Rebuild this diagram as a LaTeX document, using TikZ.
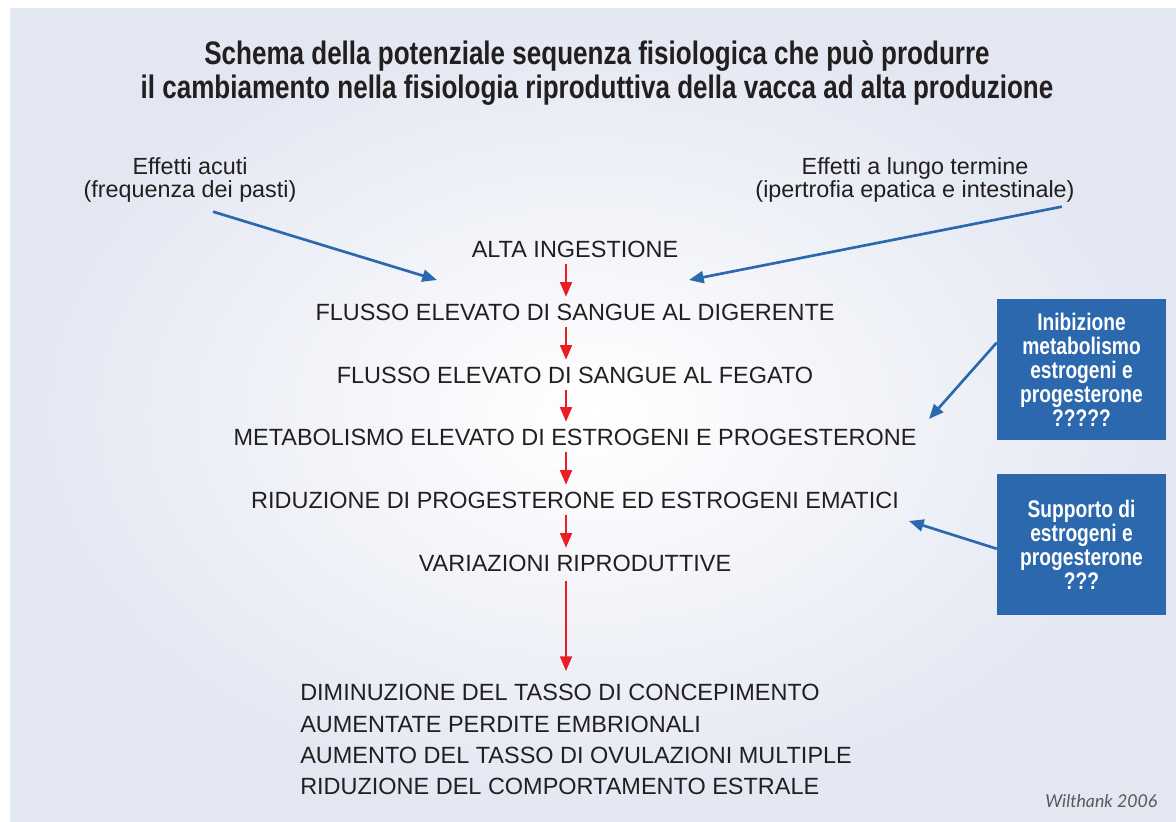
\documentclass[tikz,border=0pt]{standalone}
\usepackage{fontspec}
\setmainfont{Liberation Sans}
\newfontfamily\condfont[FakeStretch=0.8]{Liberation Sans}
\newfontfamily\notefont{Lato}
\usetikzlibrary{arrows.meta,calc}
\definecolor{panelblue}{HTML}{E3E7F2}
\definecolor{boxblue}{HTML}{2B68AD}
\definecolor{arrowred}{HTML}{EC1C24}
\definecolor{inkgray}{HTML}{231F20}
\tikzset{
  flow/.style={text=inkgray, font=\fontsize{17.6}{18}\selectfont, text height=12.6pt, text depth=0pt, inner sep=3pt},
  side/.style={text=inkgray, align=center, inner sep=3pt, font=\fontsize{17.5}{17.3}\selectfont},
  infobox/.style={fill=boxblue, text=white, align=center, minimum width=126.75pt, minimum height=105.75pt, inner sep=0pt, font=\condfont\bfseries\fontsize{18}{18}\selectfont},
  redarr/.style={draw=arrowred, line width=1.5pt, -{Triangle[length=11pt,width=9pt]}},
  bluearr/.style={draw=boxblue, line width=2pt, -{Triangle[length=11pt,width=9pt]}}
}
\begin{document}
\begin{tikzpicture}[x=0.75pt,y=-0.75pt]
\useasboundingbox (0,0) rectangle (1176,821);
\fill[white] (0,0) rectangle (1176,821);
\shade[inner color=white, outer color=panelblue] (10,8) rectangle (1176,821);
\node[text=inkgray, align=center, font=\condfont\bfseries\fontsize{24.4}{24.8}\selectfont] (t1) at (597,73) {Schema della potenziale sequenza fisiologica che può produrre\\il cambiamento nella fisiologia riproduttiva della vacca ad alta produzione};
\node[side] (e1) at (190,180) {Effetti acuti\\(frequenza dei pasti)};
\node[side] (e2) at (915,180) {Effetti a lungo termine\\(ipertrofia epatica e intestinale)};
\node[flow] (v1) at (575,249) {ALTA INGESTIONE};
\node[flow] (v2) at (575,312) {FLUSSO ELEVATO DI SANGUE AL DIGERENTE};
\node[flow] (v3) at (575,375) {FLUSSO ELEVATO DI SANGUE AL FEGATO};
\node[flow] (v4) at (575,437) {METABOLISMO ELEVATO DI ESTROGENI E PROGESTERONE};
\node[flow] (v5) at (575,500) {RIDUZIONE DI PROGESTERONE ED ESTROGENI EMATICI};
\node[flow] (v6) at (575,563) {VARIAZIONI RIPRODUTTIVE};
\node[text=inkgray, align=left, inner sep=3pt, anchor=north west, font=\fontsize{17.6}{23.5}\selectfont] (v7) at (296,680) {DIMINUZIONE DEL TASSO DI CONCEPIMENTO\\AUMENTATE PERDITE EMBRIONALI\\AUMENTO DEL TASSO DI OVULAZIONI MULTIPLE\\RIDUZIONE DEL COMPORTAMENTO ESTRALE};
\node[infobox] (b1) at (1081.5,369.5) {Inibizione\\metabolismo\\estrogeni e\\progesterone\\?????};
\node[infobox] (b2) at (1081.5,544.5) {Supporto di\\estrogeni e\\progesterone\\???};
\node[anchor=east, text=black!65, font=\notefont\itshape\fontsize{13.3}{13.3}\selectfont] (src) at (1162,801) {Wilthank 2006};
\coordinate (p1) at (437,280);
\coordinate (p2) at (689,280);
\coordinate (p3) at (929,419);
\coordinate (p4) at (909,521);
\draw[redarr, shorten <=1.5pt, shorten >=2pt] ([xshift=-6.75pt]v1.south) -- ([xshift=-6.75pt]v2.north);
\draw[redarr, shorten <=1.5pt, shorten >=2pt] ([xshift=-6.75pt]v2.south) -- ([xshift=-6.75pt]v3.north);
\draw[redarr, shorten <=1.5pt, shorten >=2pt] ([xshift=-6.75pt]v3.south) -- ([xshift=-6.75pt]v4.north);
\draw[redarr, shorten <=1.5pt, shorten >=2pt] ([xshift=-6.75pt]v4.south) -- ([xshift=-6.75pt]v5.north);
\draw[redarr, shorten <=1.5pt, shorten >=2pt] ([xshift=-6.75pt]v5.south) -- ([xshift=-6.75pt]v6.north);
\draw[redarr, shorten <=4pt, shorten >=6.75pt] ([xshift=-6.75pt]v6.south) -- ([xshift=-6.75pt]v6.south |- v7.north);
\draw[bluearr] ($(e1.south)+(23,5)$) -- (p1);
\draw[bluearr] ($(e2.south east)+(-17,0)$) -- (p2);
\draw[bluearr] ($(b1.north west)!0.31!(b1.south west)$) -- (p3);
\draw[bluearr] ($(b2.north west)!0.53!(b2.south west)$) -- (p4);
\end{tikzpicture}
\end{document}
